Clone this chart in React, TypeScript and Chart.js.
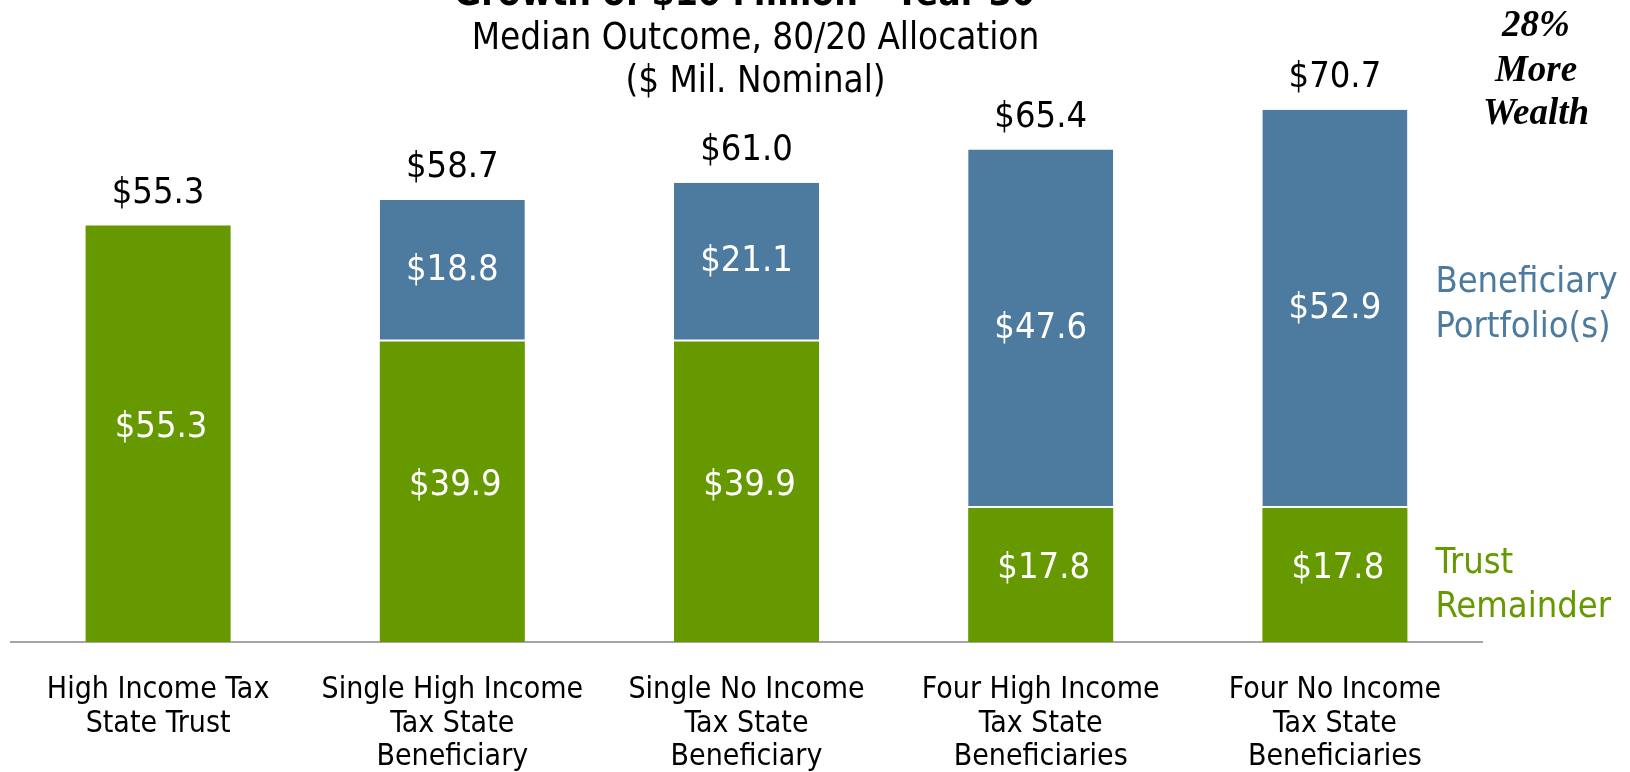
import { useEffect, useRef } from "react";
import { Chart, registerables } from "chart.js";

Chart.register(...registerables);

const CATEGORIES = [
  ["High Income Tax", "State Trust"],
  ["Single High Income", "Tax State", "Beneficiary"],
  ["Single No Income", "Tax State", "Beneficiary"],
  ["Four High Income", "Tax State", "Beneficiaries"],
  ["Four No Income", "Tax State", "Beneficiaries"],
];
const TRUST_REMAINDER = [55.3, 39.9, 39.9, 17.8, 17.8];
const BENEFICIARY_PORTFOLIO = [0, 18.8, 21.1, 47.6, 52.9];

const TITLE = "Growth of $10 Million - Year 30";
const SUBTITLE = ["Median Outcome, 80/20 Allocation", "($ Mil. Nominal)"];
const NOTE = ["28%", "More", "Wealth"];
const LEGEND_BENEFICIARY = ["Beneficiary", "Portfolio(s)"];
const LEGEND_TRUST = ["Trust", "Remainder"];

const BLUE = "#4d7a9f";
const GREEN = "#669900";
const FONT = '"DejaVu Sans Condensed", "DejaVu Sans", sans-serif';

const fmt = (v: number) => "$" + v.toFixed(1);

const labelsPlugin = {
  id: "customLabels",
  afterDatasetsDraw(chart: any) {
    const ctx = chart.ctx as CanvasRenderingContext2D;
    const g = chart.getDatasetMeta(0).data;
    const b = chart.getDatasetMeta(1).data;
    const area = chart.chartArea;
    ctx.save();
    ctx.textAlign = "center";
    ctx.font = `36px ${FONT}`;
    for (let i = 0; i < TRUST_REMAINDER.length; i++) {
      const ge = g[i];
      const be = b[i];
      ctx.fillStyle = "#ffffff";
      ctx.textBaseline = "middle";
      if (TRUST_REMAINDER[i] > 0) ctx.fillText(fmt(TRUST_REMAINDER[i]), ge.x + 3, (ge.y + ge.base) / 2 - 6);
      if (BENEFICIARY_PORTFOLIO[i] > 0) ctx.fillText(fmt(BENEFICIARY_PORTFOLIO[i]), be.x, (be.y + be.base) / 2);
      const top = BENEFICIARY_PORTFOLIO[i] > 0 ? Math.min(be.y, ge.y) : ge.y;
      ctx.fillStyle = "#000000";
      ctx.textBaseline = "alphabetic";
      ctx.fillText(fmt(TRUST_REMAINDER[i] + BENEFICIARY_PORTFOLIO[i]), ge.x, top - 23);
    }

    // Titles
    const cx = (area.left + area.right) / 2;
    ctx.fillStyle = "#000000";
    ctx.font = `bold 37px ${FONT}`;
    ctx.fillText(TITLE, cx - 2, 5);
    ctx.font = `36.5px ${FONT}`;
    ctx.fillText(SUBTITLE[0], cx + 9, 49);
    ctx.fillText(SUBTITLE[1], cx + 9, 92);

    // Right-side series labels
    const last = TRUST_REMAINDER.length - 1;
    const lb = b[last];
    const lg = g[last];
    const lx = lb.x + lb.width / 2 + 28;
    ctx.textAlign = "left";
    ctx.font = `36px ${FONT}`;
    ctx.fillStyle = BLUE;
    const bMid = (lb.y + lb.base) / 2;
    ctx.fillText(LEGEND_BENEFICIARY[0], lx, bMid - 17);
    ctx.fillText(LEGEND_BENEFICIARY[1], lx, bMid + 28);
    ctx.fillStyle = GREEN;
    const gMid = (lg.y + lg.base) / 2;
    ctx.fillText(LEGEND_TRUST[0], lx, gMid - 2);
    ctx.fillText(LEGEND_TRUST[1], lx, gMid + 42);

    // Note
    ctx.textAlign = "center";
    ctx.fillStyle = "#000000";
    ctx.font = `italic bold 37px "Liberation Serif", "Times New Roman", serif`;
    ctx.fillText(NOTE[0], 1536, 36);
    ctx.fillText(NOTE[1], 1536, 81);
    ctx.fillText(NOTE[2], 1536, 124);
    ctx.restore();
  },
};

export default function App() {
  const ref = useRef<HTMLCanvasElement | null>(null);
  useEffect(() => {
    if (!ref.current) return;
    const chart = new Chart(ref.current, {
      type: "bar",
      data: {
        labels: CATEGORIES,
        datasets: [
          {
            label: "Trust Remainder",
            data: TRUST_REMAINDER,
            backgroundColor: GREEN,
            borderWidth: 0,
            categoryPercentage: 1,
            barPercentage: 0.493,
          },
          {
            label: "Beneficiary Portfolio(s)",
            data: BENEFICIARY_PORTFOLIO,
            backgroundColor: BLUE,
            borderColor: "#ffffff",
            borderWidth: { top: 0, left: 0, right: 0, bottom: 2 },
            borderSkipped: false,
            categoryPercentage: 1,
            barPercentage: 0.493,
          },
        ],
      },
      plugins: [labelsPlugin],
      options: {
        responsive: false,
        animation: false,
        devicePixelRatio: 1,
        layout: { padding: { left: 11, right: 148, top: 39.6, bottom: 0 } },
        plugins: {
          legend: { display: false },
          tooltip: { enabled: false },
          title: { display: false },
        },
        scales: {
          x: {
            stacked: true,
            grid: { display: false, drawTicks: false },
            border: { display: true, color: "#a6a6a6", width: 2 },
            ticks: {
              color: "#000000",
              font: { family: FONT, size: 30, lineHeight: 1.11 },
              padding: 32,
              maxRotation: 0,
              autoSkip: false,
            },
            afterFit: (scale: any) => {
              scale.height = 130;
            },
          },
          y: {
            stacked: true,
            display: false,
            min: 0,
            max: 80,
          },
        },
      },
    });
    return () => chart.destroy();
  }, []);
  return (
    <div style={{ position: "absolute", left: 0, top: 0, width: 1630, height: 772 }}>
      <canvas ref={ref} width={1630} height={772} style={{ display: "block", width: 1630, height: 772 }} />
    </div>
  );
}
